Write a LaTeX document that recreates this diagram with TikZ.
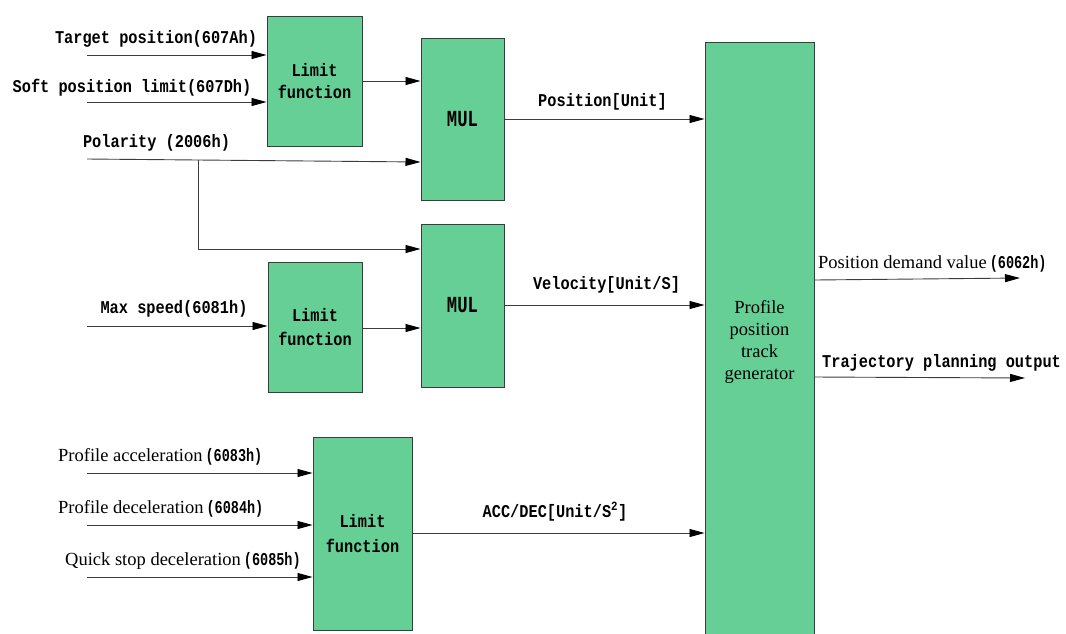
\documentclass[tikz,border=0pt]{standalone}
\usepackage{fontspec}
\setmainfont{Liberation Serif}
\newfontfamily\monob{Liberation Mono}[FakeStretch=0.85]
\newfontfamily\monoc{Liberation Mono}[FakeStretch=0.75]
\usetikzlibrary{arrows.meta,calc}
\definecolor{boxgreen}{RGB}{102,207,149}
\definecolor{linegray}{RGB}{60,60,60}
\newcommand{\hexcode}[1]{{\monoc\bfseries\fontsize{18}{20}\selectfont #1}}
\tikzset{
  blk/.style={draw=linegray, line width=1pt, fill=boxgreen, inner sep=0pt, align=center},
  arr/.style={draw=linegray, line width=0.9pt, -{Triangle[length=15pt,width=8pt,color=black]}},
  mlab/.style={font=\monob\bfseries\fontsize{18}{22}\selectfont, inner sep=0pt, anchor=base},
  slab/.style={font=\fontsize{18.5}{22}\selectfont, inner sep=0pt, anchor=base west},
}
\begin{document}
\begin{tikzpicture}[x=1pt,y=-1pt]
\useasboundingbox (0,0) rectangle (1066,633);
% boxes
\node[blk, minimum width=95pt, minimum height=130pt, font=\monob\bfseries\fontsize{18}{22}\selectfont] (lf1) at (314.5,81) {Limit\\function};
\node[blk, minimum width=83pt, minimum height=162pt, font=\monoc\bfseries\fontsize{23}{22}\selectfont] (mul1) at (462.5,119) {MUL};
\node[blk, minimum width=94pt, minimum height=130pt, font=\monob\bfseries\fontsize{18}{24}\selectfont] (lf2) at (315,327) {Limit\\function};
\node[blk, minimum width=83pt, minimum height=163pt, font=\monoc\bfseries\fontsize{23}{22}\selectfont] (mul2) at (462.5,305.5) {MUL};
\node[blk, minimum width=99pt, minimum height=193pt, font=\monob\bfseries\fontsize{18}{25}\selectfont] (lf3) at (362.5,533.5) {Limit\\function};
\node[blk, minimum width=109pt, minimum height=600pt, font=\fontsize{18.5}{22}\selectfont] (ppt) at (759.5,342) {Profile\\position\\track\\generator};
% input coordinates
\coordinate (tp) at (87,55);
\coordinate (sp) at (87,102);
\coordinate (pol) at (87,159);
\coordinate (br) at (198,160);
\coordinate (ms) at (87,326);
\coordinate (pa) at (87,473);
\coordinate (pd) at (87,525);
\coordinate (qs) at (87,577);
\coordinate (pdv) at (1020,278);
\coordinate (tpo) at (1025,378);
% connectors
\draw[arr] (tp) -- (lf1.west |- tp);
\draw[arr] (sp) -- (lf1.west |- sp);
\draw[arr] (lf1.east |- 0,81) -- (mul1.west |- 0,81);
\draw[arr] (pol) -- ([yshift=-43pt]mul1.west);
\draw[arr] (br) |- ([yshift=56.5pt]mul2.west);
\draw[arr] (ms) -- (lf2.west |- ms);
\draw[arr] (lf2.east |- 0,328) -- (mul2.west |- 0,328);
\draw[arr] (mul1.east |- 0,119) -- (ppt.west |- 0,119);
\draw[arr] (mul2.east |- 0,305) -- (ppt.west |- 0,305);
\draw[arr] (pa) -- (lf3.west |- pa);
\draw[arr] (pd) -- (lf3.west |- pd);
\draw[arr] (qs) -- (lf3.west |- qs);
\draw[arr] (lf3.east |- 0,533) -- (ppt.west |- 0,533);
\draw[arr] ([yshift=62pt]ppt.east) -- (pdv);
\draw[arr] ([yshift=-35pt]ppt.east) -- (tpo);
% labels
\node[mlab] (ltp) at (156,43) {Target position(607Ah)};
\node[mlab] (lsp) at (132,92) {Soft position limit(607Dh)};
\node[mlab] (lpol) at (156.5,147) {Polarity (2006h)};
\node[mlab] (lms) at (174,313) {Max speed(6081h)};
\node[mlab] (lpos) at (602.5,106) {Position[Unit]};
\node[mlab] (lvel) at (606.5,289) {Velocity[Unit/S]};
\node[mlab] (lacc) at (555,517) {ACC/DEC[Unit/S\textsuperscript{2}]};
\node[mlab, anchor=base west] (ltpo) at (822,367) {Trajectory planning output};
\node[slab] (lpa) at (58,461) {Profile acceleration\,\hexcode{(6083h)}};
\node[slab] (lpd) at (58,513) {Profile deceleration\,\hexcode{(6084h)}};
\node[slab] (lqs) at (65,565) {Quick stop deceleration\,\hexcode{(6085h)}};
\node[slab] (lpdv) at (818,268) {Position demand value\,\hexcode{(6062h)}};
\end{tikzpicture}
\end{document}
